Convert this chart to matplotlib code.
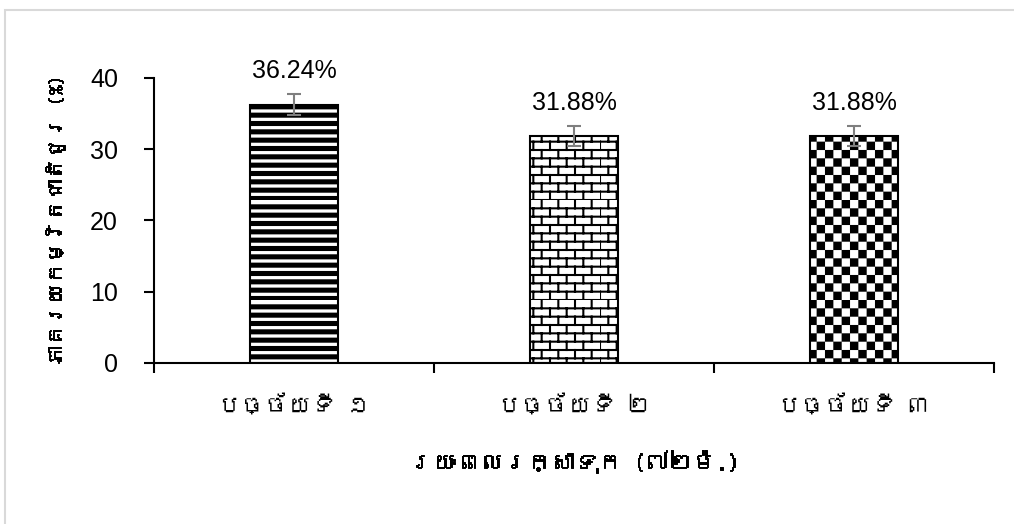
import numpy as np
import matplotlib
matplotlib.use('Agg')
import matplotlib.pyplot as plt
import matplotlib.hatch as mhatch
import matplotlib.patheffects as pe
from matplotlib.path import Path
from matplotlib.patches import Rectangle
from matplotlib import font_manager
from matplotlib.ft2font import FT2Font

categories = ['បច្ច័យទី ១', 'បច្ច័យទី ២', 'បច្ច័យទី ៣']
values = [36.24, 31.88, 31.88]
errors = [1.5, 1.4, 1.4]
ylabel = 'ភាគរយកម្រិតជាតិជូរ (%)'
xlabel = 'រយៈពេលរក្សាទុក (៧២ម៉.)'
yticks = [0, 10, 20, 30, 40]


# custom fills: thick stripes (s), bricks (b), checkerboard (c)
class StripeHatch(mhatch.HatchPatternBase):
    def __init__(self, hatch, density):
        self.n = hatch.count('s') * density * 2
        self.num_vertices = self.n * 5

    def set_vertices_and_codes(self, vertices, codes):
        h = 0.03
        for i in range(self.n):
            y = i / self.n
            vertices[i*5:i*5+5] = [(0, y), (1, y), (1, y + h), (0, y + h), (0, y)]
            codes[i*5:i*5+5] = [Path.MOVETO, Path.LINETO, Path.LINETO, Path.LINETO, Path.CLOSEPOLY]


class BrickHatch(mhatch.HatchPatternBase):
    def __init__(self, hatch, density):
        self.rows = hatch.count('b') * density * 2
        self.cols = 6 if self.rows else 0
        self.num_vertices = self.rows * 2 + self.rows * self.cols * 2

    def set_vertices_and_codes(self, vertices, codes):
        k = 0
        for i in range(self.rows):
            y0 = i / self.rows
            y1 = (i + 1) / self.rows
            vertices[k:k+2] = [(0, y0), (1, y0)]
            codes[k:k+2] = [Path.MOVETO, Path.LINETO]
            k += 2
            off = 0.5 / self.cols if i % 2 else 0.0
            for j in range(self.cols):
                x = j / self.cols + off
                vertices[k:k+2] = [(x, y0), (x, y1)]
                codes[k:k+2] = [Path.MOVETO, Path.LINETO]
                k += 2


class CheckerHatch(mhatch.HatchPatternBase):
    def __init__(self, hatch, density):
        self.n = hatch.count('c') * density * 2
        self.num_vertices = (self.n * self.n // 2) * 5

    def set_vertices_and_codes(self, vertices, codes):
        k = 0
        s = 1 / self.n
        d = 0.01
        for i in range(self.n):
            for j in range(self.n):
                if (i + j) % 2:
                    continue
                x, y = j * s, i * s
                vertices[k:k+5] = [(x + d, y + d), (x + s - d, y + d), (x + s - d, y + s - d),
                                   (x + d, y + s - d), (x + d, y + d)]
                codes[k:k+5] = [Path.MOVETO, Path.LINETO, Path.LINETO, Path.LINETO, Path.CLOSEPOLY]
                k += 5


mhatch._hatch_types.extend([StripeHatch, BrickHatch, CheckerHatch])


def find_khmer_font():
    for f in font_manager.fontManager.ttflist:
        try:
            if FT2Font(f.fname).get_char_index(0x1780):
                return f.name
        except Exception:
            pass
    return None


khmer = find_khmer_font()
latin = 'Liberation Sans'
kfam = [khmer, latin, 'DejaVu Sans'] if khmer else [latin, 'DejaVu Sans']
bold = [pe.withStroke(linewidth=0.7, foreground='black')]

plt.rcParams['font.family'] = [latin, 'DejaVu Sans']
plt.rcParams['hatch.linewidth'] = 1.5

fig = plt.figure(figsize=(10.14, 5.24), dpi=100)
ax = fig.add_axes([0.1519, 0.3073, 0.8284, 0.5439])

x = np.arange(len(categories))
hatches = ['s', 'b', 'c']
bars = ax.bar(x, values, width=0.314, color='white', edgecolor='black', linewidth=1.5,
              hatch=hatches, zorder=2)
ax.errorbar(x, values, yerr=errors, fmt='none', ecolor='#7f7f7f', elinewidth=1.5,
            capsize=5, capthick=1.5, zorder=3)

for xi, v, e in zip(x, values, errors):
    ax.annotate(f'{v:.2f}%', (xi, v + e), xytext=(0, 11.5), textcoords='offset points',
                ha='center', va='baseline', fontsize=18)

ax.set_xlim(-0.5, len(categories) - 0.5)
ax.set_ylim(0, 40)
ax.set_yticks(yticks)
ax.tick_params(axis='y', direction='out', length=7, width=1.5, labelsize=18, pad=19)

ax.set_xticks(np.arange(len(categories) + 1) - 0.5)
ax.set_xticklabels([])
ax.tick_params(axis='x', which='major', direction='out', length=7, width=1.5)
ax.set_xticks(x, minor=True)
ax.set_xticklabels(categories, minor=True, fontsize=17, family=kfam)
ax.tick_params(axis='x', which='minor', length=0, pad=22)

for side in ['top', 'right']:
    ax.spines[side].set_visible(False)
for side in ['left', 'bottom']:
    ax.spines[side].set_linewidth(1.5)

ax.set_xlabel(xlabel, fontsize=17, fontweight='bold', family=kfam, labelpad=25,
              path_effects=bold)
ax.set_ylabel(ylabel, fontsize=15, fontweight='bold', family=kfam, labelpad=18,
              path_effects=bold)

fig.patches.append(Rectangle((4.5 / 1014, -0.1), 2, 1.1 - 10.5 / 524, transform=fig.transFigure,
                             fill=False, edgecolor='#d9d9d9', linewidth=1.5))

fig.savefig('out.png', dpi=100)
